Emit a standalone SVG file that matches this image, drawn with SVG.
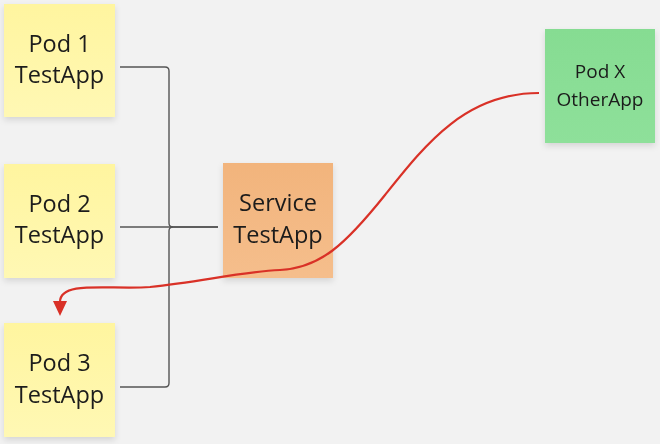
<svg xmlns="http://www.w3.org/2000/svg" width="660" height="444" viewBox="0 0 660 444">
<defs>
<filter id="sh" x="-20%" y="-20%" width="140%" height="150%">
<feDropShadow dx="0" dy="3" stdDeviation="3" flood-color="#000" flood-opacity="0.12"/>
</filter>
<linearGradient id="gy" x1="0" y1="0" x2="0" y2="1"><stop offset="0" stop-color="#fff59f"/><stop offset="1" stop-color="#fff8b4"/></linearGradient>
<linearGradient id="go" x1="0" y1="0" x2="0" y2="1"><stop offset="0" stop-color="#f2b47c"/><stop offset="1" stop-color="#f5be8c"/></linearGradient>
<linearGradient id="gg" x1="0" y1="0" x2="0" y2="1"><stop offset="0" stop-color="#86dc92"/><stop offset="1" stop-color="#8ee09a"/></linearGradient>
<marker id="ar" markerWidth="18" markerHeight="16" refX="1" refY="7" orient="auto" markerUnits="userSpaceOnUse" overflow="visible">
<path d="M0,0 L15,7 L0,14 Z" fill="#d93127"/>
</marker>
</defs>
<style>
.bg{fill:#f2f2f2}
.note{filter:url(#sh)}
.t{font-family:"Open Sans","Noto Sans",sans-serif;fill:#1a1a1a;text-anchor:middle}
.big{font-size:23.5px}
.small{font-size:19px}
.conn{fill:none;stroke:#555;stroke-width:1.4}
.red{fill:none;stroke:#d93127;stroke-width:2.2}
</style>
<rect class="bg" width="660" height="444"/>
<g id="pod1" class="note">
<rect x="4" y="4" width="111" height="113" fill="url(#gy)"/>
<text class="t big" x="59.5" y="52">Pod 1</text>
<text class="t big" x="59.5" y="83">TestApp</text>
</g>
<g id="pod2" class="note">
<rect x="4" y="164" width="111" height="114" fill="url(#gy)"/>
<text class="t big" x="59.5" y="212">Pod 2</text>
<text class="t big" x="59.5" y="243">TestApp</text>
</g>
<g id="pod3" class="note">
<rect x="4" y="323" width="111" height="114" fill="url(#gy)"/>
<text class="t big" x="59.5" y="371">Pod 3</text>
<text class="t big" x="59.5" y="403">TestApp</text>
</g>
<g id="service" class="note">
<rect x="223" y="163" width="110" height="115" fill="url(#go)"/>
<text class="t big" x="278" y="211">Service</text>
<text class="t big" x="278" y="243">TestApp</text>
</g>
<g id="podx" class="note">
<rect x="545" y="29" width="110" height="114" fill="url(#gg)"/>
<text class="t small" x="600" y="78">Pod X</text>
<text class="t small" x="600" y="106">OtherApp</text>
</g>
<g id="connectors">
<path class="conn" d="M120,67 H165 Q169,67 169,71 V223 Q169,227 173,227 H218"/>
<path class="conn" d="M120,387 H165 Q169,387 169,383 V231 Q169,227 173,227"/>
<path class="conn" d="M120,227 H218"/>
<path class="red" d="M539,93 C465,93 425,145 385,195 C345,245 320,268 280,270 C240,272 200,282 150,287 C110,290 60,280 60,302" marker-end="url(#ar)"/>
</g>
</svg>
